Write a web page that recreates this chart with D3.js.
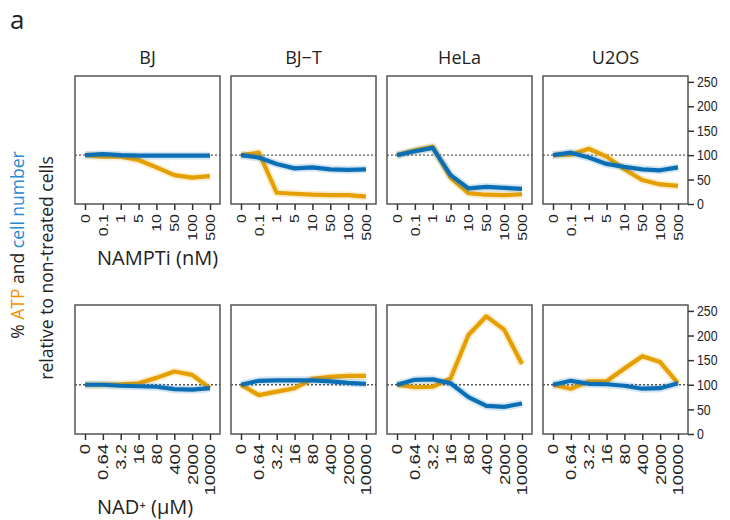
<!DOCTYPE html>
<html>
<head>
<meta charset="utf-8">
<script src="https://cdn.jsdelivr.net/npm/d3@7"></script>
<style>
  body { margin: 0; background: #fff; }
  svg text { font-family: "Liberation Sans", Arial, sans-serif; fill: #222; }
  .lbl { font-family: "Open Sans", sans-serif; }
</style>
</head>
<body>
<div id="chart"></div>
<script>
// categories
var cellLines = ["BJ", "BJ\u2212T", "HeLa", "U2OS"];
var namptDoses = ["0", "0.1", "1", "5", "10", "50", "100", "500"];
var nadDoses = ["0", "0.64", "3.2", "16", "80", "400", "2000", "10000"];
var yTicks = [0, 50, 100, 150, 200, 250];

// top row: NAMPTi, % relative to untreated
var namptAtp = [
  [100, 97, 97, 90, 75, 59, 54, 57],
  [100, 105, 23, 21, 19, 18, 18, 15],
  [100, 110, 117, 54, 22, 19, 18, 20],
  [100, 101, 113, 97, 71, 49, 40, 37]
];
var namptCells = [
  [100, 102, 100, 99, 99, 99, 99, 99],
  [100, 95, 82, 73, 75, 71, 70, 71],
  [100, 108, 115, 59, 32, 35, 33, 31],
  [100, 105, 95, 82, 76, 71, 69, 75]
];

// bottom row: NAD+
var nadAtp = [
  [100, 100, 101, 103, 114, 127, 120, 93],
  [100, 79, 86, 93, 112, 116, 118, 118],
  [100, 95, 96, 113, 201, 239, 212, 142],
  [100, 92, 107, 107, 133, 158, 146, 103]
];
var nadCells = [
  [100, 100, 98, 97, 96, 91, 90, 93],
  [100, 108, 109, 109, 109, 107, 104, 102],
  [100, 110, 111, 103, 75, 57, 55, 62],
  [100, 108, 102, 101, 98, 92, 93, 103]
];

var orange = "#E69F00", blue = "#0A6FB5";

var svg = d3.select("#chart").append("svg")
    .attr("width", 730).attr("height", 520);

var panelW = 145, gapX = 156, left0 = 75;
var rows = [
  { top: 76, h: 128, doses: namptDoses, atp: namptAtp, cells: namptCells,
    label: "NAMPTi (nM)", labelY: 265, tickFont: 16 },
  { top: 305, h: 129, doses: nadDoses, atp: nadAtp, cells: nadCells,
    label: "NAD\u207A (\u00B5M)", labelY: 514, tickFont: 18.5 }
];

svg.append("text").attr("class", "lbl")
    .attr("x", 10).attr("y", 29)
    .style("font-size", "26px").text("a");

cellLines.forEach(function(name, i) {
  svg.append("text").attr("class", "lbl")
      .attr("x", left0 + i * gapX + panelW / 2).attr("y", 64)
      .attr("text-anchor", "middle")
      .style("font-size", "18px").text(name);
});

rows.forEach(function(row, r) {
  var y = d3.scaleLinear().domain([0, 262]).range([row.h, 0]);
  var x = d3.scalePoint().domain(row.doses).range([10, panelW - 10]);

  var line = d3.line()
      .x(function(d, k) { return x(row.doses[k]); })
      .y(function(d) { return y(d); });

  cellLines.forEach(function(name, i) {
    var g = svg.append("g")
        .attr("transform", "translate(" + (left0 + i * gapX) + "," + row.top + ")");

    // reference line at 100
    g.append("line")
        .attr("x1", 0).attr("x2", panelW)
        .attr("y1", y(100)).attr("y2", y(100))
        .attr("stroke", "#555").attr("stroke-width", 1.3)
        .attr("stroke-dasharray", "2,2");

    [[row.atp[i], orange], [row.cells[i], blue]].forEach(function(s) {
      g.append("path").datum(s[0])
          .attr("d", line).attr("fill", "none")
          .attr("stroke", s[1]).attr("stroke-opacity", 0.18)
          .attr("stroke-width", 8).attr("stroke-linejoin", "round");
      g.append("path").datum(s[0])
          .attr("d", line).attr("fill", "none")
          .attr("stroke", s[1]).attr("stroke-width", 4.2)
          .attr("stroke-linejoin", "round");
    });

    g.append("rect")
        .attr("width", panelW).attr("height", row.h)
        .attr("fill", "none").attr("stroke", "#555").attr("stroke-width", 1.5);

    var xAxis = g.append("g")
        .attr("transform", "translate(0," + row.h + ")")
        .call(d3.axisBottom(x).tickSize(6).tickPadding(4));
    xAxis.select(".domain").remove();
    xAxis.selectAll(".tick line").attr("stroke", "#333").attr("stroke-width", 1.5);
    xAxis.selectAll(".tick text")
        .attr("transform", "scale(0.75,1) rotate(-90)")
        .attr("text-anchor", "end")
        .attr("x", -10).attr("y", 0).attr("dy", "0.35em")
        .style("font-size", row.tickFont + "px")
        .style("font-family", "Liberation Sans, Arial, sans-serif")
        .attr("fill", "#222");

    if (i === cellLines.length - 1) {
      var yAxis = g.append("g")
          .attr("transform", "translate(" + panelW + ",0)")
          .call(d3.axisRight(y).tickValues(yTicks).tickSize(6).tickPadding(3));
      yAxis.select(".domain").remove();
      yAxis.selectAll(".tick line").attr("stroke", "#333").attr("stroke-width", 1.5);
      yAxis.selectAll(".tick text")
          .attr("transform", "translate(9,0) scale(0.85,1)")
          .attr("x", 0)
          .style("font-size", "14.5px")
          .style("font-family", "Liberation Sans, Arial, sans-serif")
          .attr("fill", "#222");
    }
  });

  svg.append("text").attr("class", "lbl")
      .attr("x", 97).attr("y", row.labelY)
      .style("font-size", "20px").text(row.label);
});

// y axis title
var t1 = svg.append("text").attr("class", "lbl")
    .attr("transform", "translate(24,245) rotate(-90)")
    .attr("text-anchor", "middle").style("font-size", "17.5px");
t1.append("tspan").text("% ");
t1.append("tspan").style("fill", "#F39200").text("ATP");
t1.append("tspan").text(" and ");
t1.append("tspan").style("fill", "#2A88D0").text("cell number");

svg.append("text").attr("class", "lbl")
    .attr("transform", "translate(53,268) rotate(-90)")
    .attr("text-anchor", "middle").style("font-size", "17.5px")
    .text("relative to non-treated cells");
</script>
</body>
</html>
